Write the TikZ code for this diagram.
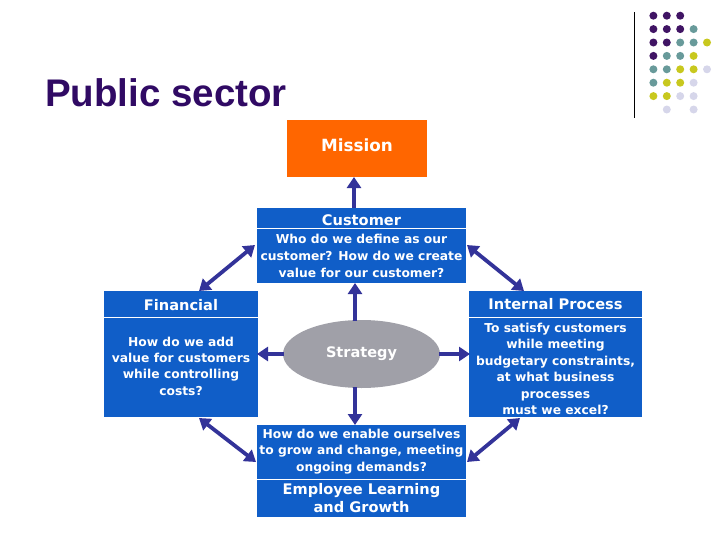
\documentclass[tikz,border=0pt]{standalone}
\usepackage{fontspec}
\setmainfont{DejaVu Sans}
\newfontfamily\titlefont{Liberation Sans}
\usetikzlibrary{arrows.meta,shapes.geometric}
\definecolor{boxblue}{RGB}{16,94,200}
\definecolor{mishorange}{RGB}{255,102,0}
\definecolor{arrowblue}{RGB}{51,51,153}
\definecolor{stratgray}{RGB}{160,160,168}
\definecolor{titlepurple}{RGB}{48,10,100}
\definecolor{dotpurple}{RGB}{64,20,100}
\definecolor{dotteal}{RGB}{104,154,154}
\definecolor{dotyellow}{RGB}{200,200,30}
\definecolor{dotlav}{RGB}{214,214,234}
\tikzset{
  bsc/.style={fill=boxblue, draw=none, inner sep=0pt},
  divider/.style={draw=white, line width=0.8pt},
  headtxt/.style={text=white, font=\bfseries\fontsize{14.6}{16}\selectfont, align=center, inner sep=0pt},
  bodytxt/.style={text=white, font=\bfseries\fontsize{12.3}{17}\selectfont, align=center, inner sep=0pt},
  conn/.style={draw=arrowblue, line width=3.8pt, -{Triangle[length=11pt,width=14pt]}},
  dconn/.style={draw=arrowblue, line width=3.8pt, {Triangle[length=11pt,width=14pt]}-{Triangle[length=11pt,width=14pt]}},
  dotp/.style={fill=dotpurple, draw=none, circle, inner sep=0pt, minimum size=8pt},
  dott/.style={dotp, fill=dotteal},
  doty/.style={dotp, fill=dotyellow},
  dotl/.style={dotp, fill=dotlav},
}
\begin{document}
\begin{tikzpicture}[x=1pt,y=-1pt]
\useasboundingbox (0,0) rectangle (728,546);
% title
\node[anchor=base west, inner sep=0pt, text=titlepurple, font=\titlefont\bfseries\fontsize{38.5}{42}\selectfont] (title) at (45,106) {Public sector};
% decoration line
\draw[black, line width=1pt] (634,12) -- (634,118);
% dots
\foreach \c/\r/\s [count=\i] in {
 1/1/dotp,2/1/dotp,3/1/dotp,
 1/2/dotp,2/2/dotp,3/2/dotp,4/2/dott,
 1/3/dotp,2/3/dotp,3/3/dott,4/3/dott,5/3/doty,
 1/4/dotp,2/4/dott,3/4/dott,4/4/doty,
 1/5/dott,2/5/dott,3/5/doty,4/5/doty,5/5/dotl,
 1/6/dott,2/6/doty,3/6/doty,4/6/dotl,
 1/7/doty,2/7/doty,3/7/dotl,4/7/dotl,
 2/8/dotl,4/8/dotl}
 \node[\s] (dot\i) at ({640+13.4*\c},{2.3+13.4*\r}) {};
% boxes
\node[fill=mishorange, minimum width=140pt, minimum height=57pt, inner sep=0pt] (mission) at (357,148.5) {};
\node[text=white, font=\bfseries\fontsize{16.8}{18}\selectfont, inner sep=0pt] (missiontxt) at (357,145) {Mission};

\node[bsc, minimum width=209pt, minimum height=75pt] (cust) at (361.5,245.5) {};
\draw[divider] (257,228.5) -- (466,228.5);
\node[headtxt] (custh) at (361.5,220) {Customer};
\node[bodytxt] (custb) at (361.5,256) {Who do we define as our\\customer? How do we create\\value for our customer?};

\node[bsc, minimum width=154pt, minimum height=126pt] (fin) at (181,354) {};
\draw[divider] (104,317) -- (258,317);
\node[headtxt] (finh) at (181,305.5) {Financial};
\node[bodytxt, font=\bfseries\fontsize{12.3}{16.3}\selectfont] (finb) at (181,366) {How do we add\\value for customers\\while controlling\\costs?};

\node[bsc, minimum width=173pt, minimum height=126pt] (intp) at (555.5,354) {};
\draw[divider] (469,317) -- (642,317);
\node[headtxt] (intph) at (555.5,304.5) {Internal Process};
\node[bodytxt, font=\bfseries\fontsize{12.3}{16.4}\selectfont] (intpb) at (555.5,369) {To satisfy customers\\while meeting\\budgetary constraints,\\at what business\\processes\\must we excel?};

\node[bsc, minimum width=209pt, minimum height=92pt] (emp) at (361.5,471) {};
\draw[divider] (257,479) -- (466,479);
\node[bodytxt, font=\bfseries\fontsize{12.3}{16.5}\selectfont] (empb) at (361.5,451.5) {How do we enable ourselves\\to grow and change, meeting\\ongoing demands?};
\node[headtxt, font=\bfseries\fontsize{14.6}{18}\selectfont] (emph) at (361.5,498) {Employee Learning\\and Growth};

% strategy
\node[ellipse, fill=stratgray, minimum width=157pt, minimum height=68pt, inner sep=0pt, text=white, font=\bfseries\fontsize{14.5}{16}\selectfont] (strat) at (361.5,354) {Strategy};

% connectors
\coordinate (custtop) at (354,208);
\coordinate (misbot) at (354,177);
\coordinate (stup) at (355,321);
\coordinate (custbot) at (355,283);
\coordinate (stdn) at (355,387);
\coordinate (emptop) at (355,425);
\coordinate (stl) at (284,354);
\coordinate (finr) at (257,354);
\coordinate (str) at (439,354);
\coordinate (intl) at (470,354);
\coordinate (custl) at (255,245);
\coordinate (fint) at (199,291);
\coordinate (custr) at (467,245);
\coordinate (intt) at (524,291);
\coordinate (finbo) at (199,418);
\coordinate (empl) at (256,462);
\coordinate (intbo) at (520,418);
\coordinate (empr) at (467,462);

\draw[conn] (custtop) -- (misbot);
\draw[conn] (stup) -- (custbot);
\draw[conn] (stdn) -- (emptop);
\draw[conn] (stl) -- (finr);
\draw[conn] (str) -- (intl);
\draw[dconn] (custl) -- (fint);
\draw[dconn] (custr) -- (intt);
\draw[dconn] (finbo) -- (empl);
\draw[dconn] (intbo) -- (empr);
\end{tikzpicture}
\end{document}
